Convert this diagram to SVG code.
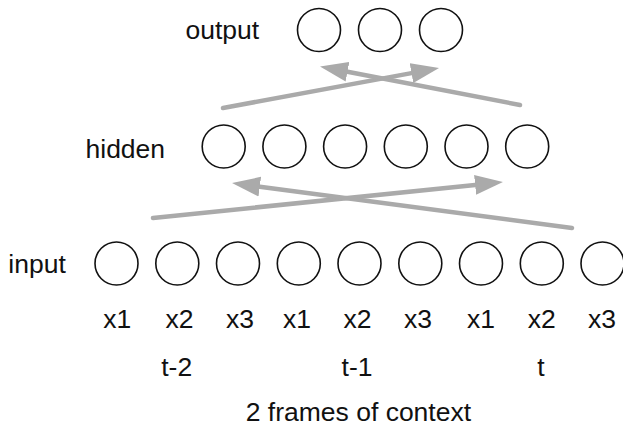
<svg xmlns="http://www.w3.org/2000/svg" width="623" height="428" viewBox="0 0 623 428">
  <style>
    .unit { fill: #ffffff; stroke: #111111; stroke-width: 1.6; }
    .lbl { font-family: "Liberation Sans", Arial, Helvetica, sans-serif; font-size: 26.5px; fill: #111111; }
    .mid { text-anchor: middle; }
    .flow { fill: none; stroke: #aaaaaa; stroke-width: 4.5; stroke-linecap: round; }
  </style>
  <defs>
    <marker id="head" viewBox="0 -11 29 22" markerWidth="29" markerHeight="22" refX="0" refY="0" orient="auto" markerUnits="userSpaceOnUse">
      <path d="M0,-10 L28,0 L0,10 Z" fill="#aaaaaa"/>
    </marker>
  </defs>

  <rect width="623" height="428" fill="#ffffff"/>

  <!-- layer titles -->
  <text class="lbl" x="185.5" y="39">output</text>
  <text class="lbl" x="85.5" y="158">hidden</text>
  <text class="lbl" x="8.3" y="273">input</text>

  <!-- output layer -->
  <g id="output">
    <circle class="unit" cx="319" cy="30" r="21.5"/>
    <circle class="unit" cx="380" cy="30" r="21.5"/>
    <circle class="unit" cx="441" cy="30" r="21.5"/>
  </g>

  <!-- hidden layer -->
  <g id="hidden">
    <circle class="unit" cx="223.7" cy="146.5" r="21.5"/>
    <circle class="unit" cx="284.4" cy="146.5" r="21.5"/>
    <circle class="unit" cx="345.1" cy="146.5" r="21.5"/>
    <circle class="unit" cx="405.8" cy="146.5" r="21.5"/>
    <circle class="unit" cx="466.5" cy="146.5" r="21.5"/>
    <circle class="unit" cx="527.2" cy="146.5" r="21.5"/>
  </g>

  <!-- input layer -->
  <g id="input">
    <circle class="unit" cx="116.5" cy="263.5" r="21.5"/>
    <circle class="unit" cx="177.3" cy="263.5" r="21.5"/>
    <circle class="unit" cx="238" cy="263.5" r="21.5"/>
    <circle class="unit" cx="298.8" cy="263.5" r="21.5"/>
    <circle class="unit" cx="359.5" cy="263.5" r="21.5"/>
    <circle class="unit" cx="420.3" cy="263.5" r="21.5"/>
    <circle class="unit" cx="481" cy="263.5" r="21.5"/>
    <circle class="unit" cx="541.8" cy="263.5" r="21.5"/>
    <circle class="unit" cx="602.5" cy="263.5" r="21.5"/>
  </g>

  <!-- crossing connectors between layers -->
  <g id="connectors">
    <line class="flow" x1="153" y1="218" x2="475.1" y2="184.9" marker-end="url(#head)"/>
    <line class="flow" x1="572" y1="228" x2="259.8" y2="186.7" marker-end="url(#head)"/>
    <line class="flow" x1="223" y1="108" x2="411.5" y2="73.1" marker-end="url(#head)"/>
    <line class="flow" x1="520" y1="105" x2="347.5" y2="71.7" marker-end="url(#head)"/>
  </g>

  <!-- input feature labels -->
  <g id="features" class="lbl mid">
    <text x="117.3" y="328">x1</text>
    <text x="179.5" y="328">x2</text>
    <text x="240" y="328">x3</text>
    <text x="297" y="328">x1</text>
    <text x="357.5" y="328">x2</text>
    <text x="418" y="328">x3</text>
    <text x="481" y="328">x1</text>
    <text x="541.7" y="328">x2</text>
    <text x="602" y="328">x3</text>
  </g>

  <!-- time steps -->
  <g id="times" class="lbl mid">
    <text x="176.7" y="376">t-2</text>
    <text x="357" y="376">t-1</text>
    <text x="541" y="376">t</text>
  </g>

  <text class="lbl mid" x="358.4" y="421">2 frames of context</text>
</svg>
